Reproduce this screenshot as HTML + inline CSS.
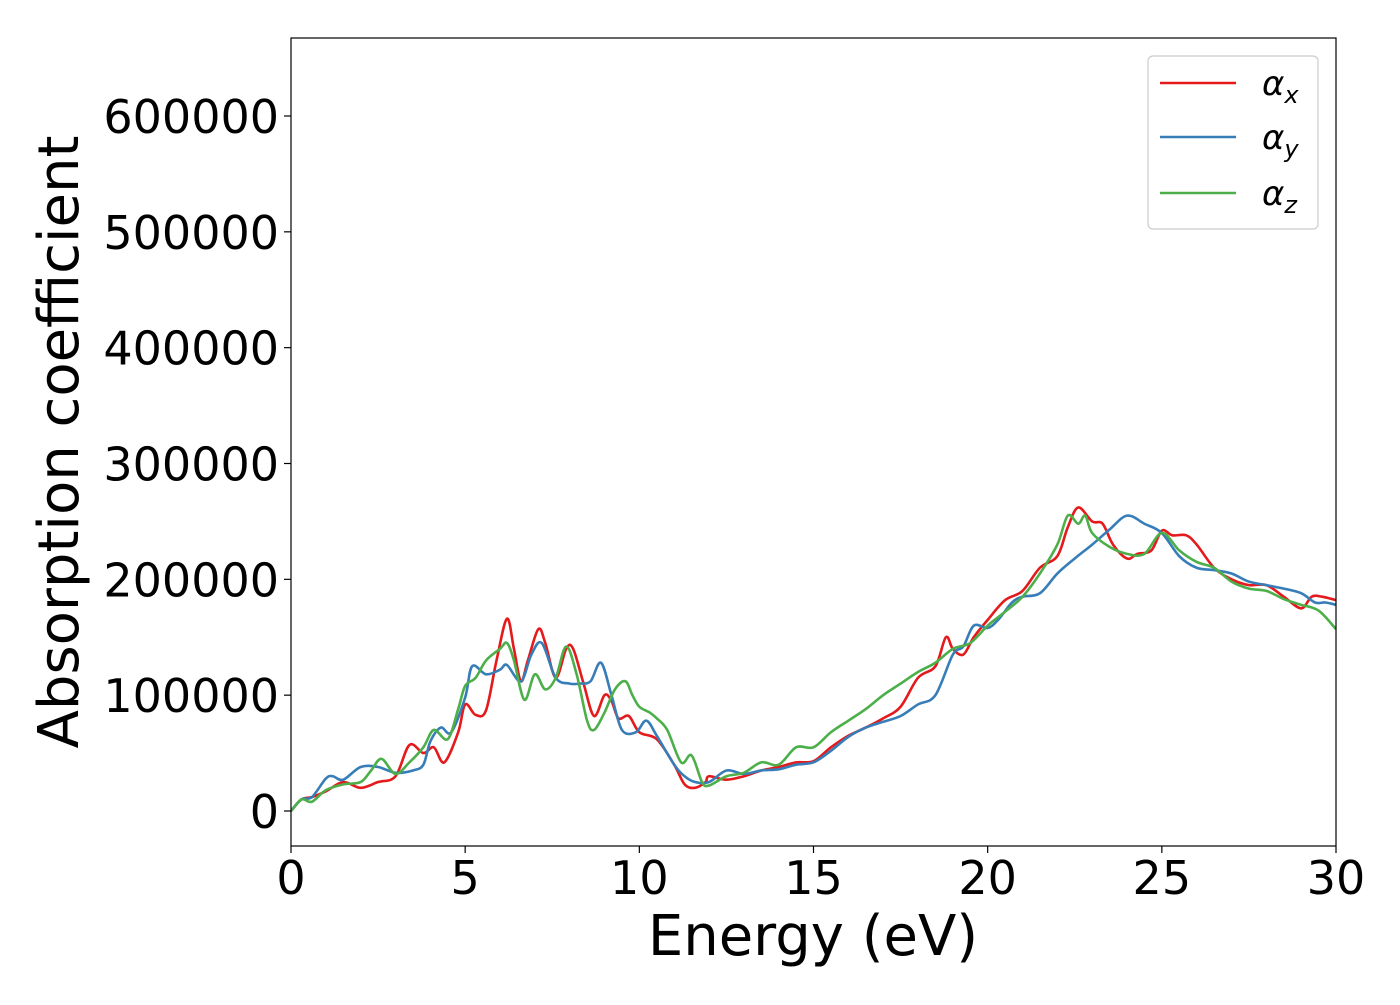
<!DOCTYPE html>
<html><head><meta charset="utf-8"><style>
body{margin:0;background:#fff}
svg text{font-family:"DejaVu Sans","Liberation Sans",sans-serif;fill:#000}
</style></head><body>
<svg id="chart" width="1400" height="1000" xmlns="http://www.w3.org/2000/svg">
<g id="plot"></g>
</svg>
<script>
const xTicks=[0,5,10,15,20,25,30];
const yTicks=[0,100000,200000,300000,400000,500000,600000];
const axE=[0,0.3,0.6,1,1.5,2,2.5,3,3.4,3.8,4.1,4.4,4.8,5,5.3,5.6,5.9,6.2,6.4,6.6,6.8,7.1,7.3,7.6,7.9,8.1,8.4,8.7,9,9.2,9.4,9.7,10,10.5,11,11.3,11.6,11.9,12,12.5,13,13.5,14,14.5,15,15.5,16,16.5,17,17.5,18,18.5,18.8,19,19.3,19.6,20,20.5,21,21.5,22,22.3,22.6,23,23.3,23.6,24,24.3,24.7,25,25.3,25.7,26,26.5,27,27.5,28,28.5,29,29.3,29.6,30];
const axV=[0,10,12,17,25,20,25,30,57,50,55,42,68,92,83,87,130,166,140,112,130,157,145,115,140,140,110,82,100,95,80,82,68,62,40,23,20,25,30,27,30,35,38,42,43,55,65,72,80,90,115,125,150,140,135,150,165,182,190,210,220,245,262,250,248,230,218,222,225,242,238,238,230,210,200,195,195,185,175,185,185,182];
const ayE=[0,0.3,0.6,1,1.2,1.5,2,2.5,3,3.5,3.8,4,4.3,4.6,5,5.2,5.6,6,6.2,6.6,6.9,7.2,7.6,8,8.3,8.6,8.9,9.2,9.5,9.9,10.2,10.5,11,11.3,11.6,12,12.5,13,13.5,14,14.5,15,15.5,16,16.5,17,17.5,18,18.5,19,19.3,19.6,20,20.3,20.7,21,21.5,22,22.5,23,23.5,24,24.5,25,25.5,26,26.5,27,27.5,28,28.5,29,29.4,29.7,30];
const ayV=[0,10,12,28,30,27,38,38,33,35,40,60,72,68,98,125,118,122,126,112,135,145,115,110,110,112,128,100,70,68,78,65,40,30,25,25,35,32,35,36,40,42,52,64,72,77,82,92,100,135,142,160,158,165,180,185,188,205,218,230,243,255,248,240,220,210,208,205,198,195,192,188,180,180,178];
const azE=[0,0.3,0.6,1,1.5,2,2.3,2.6,3,3.4,3.8,4.1,4.5,4.8,5,5.3,5.6,6,6.2,6.4,6.7,7,7.3,7.6,7.9,8.2,8.5,8.7,9,9.3,9.6,9.8,10,10.3,10.5,10.8,11.2,11.5,11.8,12,12.5,13,13.5,14,14.5,15,15.5,16,16.5,17,17.5,18,18.5,19,19.5,20,20.5,21,21.5,22,22.3,22.6,22.8,23,23.5,24,24.5,25,25.5,26,26.5,27,27.5,28,28.5,29,29.5,30];
const azV=[0,10,8,18,23,25,35,45,32,42,55,70,62,88,108,115,130,140,145,130,96,118,105,115,142,118,78,70,85,105,112,100,90,85,80,70,42,48,25,22,30,33,42,40,55,55,68,78,88,100,110,120,128,140,145,160,172,185,205,230,255,248,255,240,228,222,222,240,225,215,210,198,192,190,183,178,173,157];

const L=291,R=1336,T=38,B=846;
const X=e=>L+(e-0)/30*(R-L);
const Y=v=>811-v/600000*(811-116);
const NS="http://www.w3.org/2000/svg";
const g=document.getElementById('plot');
function mk(tag,attrs,parent){const el=document.createElementNS(NS,tag);for(const k in attrs)el.setAttribute(k,attrs[k]);(parent||g).appendChild(el);return el;}

function path(E,V,color,name){
  const p=E.map((e,i)=>[X(e),Y(V[i]*1000)]);
  let d=`M${p[0][0]},${p[0][1]}`;
  for(let i=0;i<p.length-1;i++){
    const p0=p[Math.max(0,i-1)],p1=p[i],p2=p[i+1],p3=p[Math.min(p.length-1,i+2)];
    const c1=[p1[0]+(p2[0]-p0[0])/6,p1[1]+(p2[1]-p0[1])/6];
    const c2=[p2[0]-(p3[0]-p1[0])/6,p2[1]-(p3[1]-p1[1])/6];
    d+=` C${c1[0]},${c1[1]} ${c2[0]},${c2[1]} ${p2[0]},${p2[1]}`;
  }
  const el=mk('path',{d,fill:'none',stroke:color,'stroke-width':2.6,'stroke-linejoin':'round'});
  
  
}
mk('defs',{}).innerHTML=`<clipPath id="c"><rect x="${L}" y="${T}" width="${R-L}" height="${B-T}"/></clipPath>`;
const lines=mk('g',{'clip-path':'url(#c)'});
const gg=g; 
function addLines(){
  const old=g; 
  path(axE,axV,'#e41a1c','series-alpha-x');
  path(ayE,ayV,'#377eb8','series-alpha-y');
  path(azE,azV,'#4daf4a','series-alpha-z');
  [...g.querySelectorAll('path')].forEach(p=>lines.appendChild(p));
}
addLines();

const frame=mk('rect',{x:L,y:T,width:R-L,height:B-T,fill:'none',stroke:'#000','stroke-width':1.2});



xTicks.forEach(t=>{
  const x=X(t);
  mk('line',{x1:x,x2:x,y1:B,y2:B+7,stroke:'#000','stroke-width':1.2});
  const tx=mk('text',{x:x,y:B+48,'font-size':46,'text-anchor':'middle'});
  tx.textContent=t;
  
  
});
yTicks.forEach(t=>{
  const y=Y(t);
  mk('line',{x1:L-7,x2:L,y1:y,y2:y,stroke:'#000','stroke-width':1.2});
  const tx=mk('text',{x:L-12,y:y+17,'font-size':46,'text-anchor':'end'});
  tx.textContent=t;
  
  
});
const xt=mk('text',{x:813,y:955,'font-size':56,'text-anchor':'middle'});
xt.textContent='Energy (eV)';


const yt=mk('text',{x:0,y:0,'font-size':56,'text-anchor':'middle',transform:'translate(78,442) rotate(-90)'});
yt.textContent='Absorption coefficient';



const leg=mk('g',{});


mk('rect',{x:1148,y:56,width:170,height:173,rx:5,fill:'#fff',stroke:'#ccc','stroke-width':1.2},leg);
[['x','#e41a1c',83],['y','#377eb8',137],['z','#4daf4a',193]].forEach(([s,c,y])=>{
  const e=mk('g',{},leg);
  
  
  mk('line',{x1:1160,x2:1236,y1:y,y2:y,stroke:c,'stroke-width':2.6},e);
  const t=mk('text',{x:1262,y:y+12,'font-size':34,'font-style':'italic'},e);
  t.innerHTML=`α<tspan font-size="24" dy="8">${s}</tspan>`;
});
</script>
</body></html>
